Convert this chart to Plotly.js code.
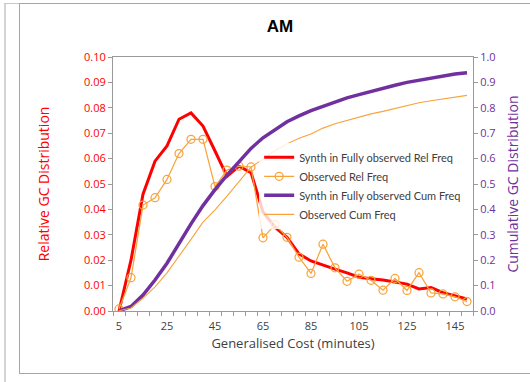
<!DOCTYPE html>
<html>
<head>
<meta charset="utf-8">
<script src="https://cdn.plot.ly/plotly-3.0.1.min.js"></script>
<style>
  html, body { margin: 0; padding: 0; background: #ffffff; }
  #wrap { position: relative; width: 530px; height: 382px; overflow: hidden; }
  #strip { position: absolute; left: 4px; top: 4px; width: 2px; height: 378px; background: #d4d4d4; }
  #topline { position: absolute; left: 4px; top: 3px; width: 526px; height: 1px; background: #c8c8c8; }
  #frame { position: absolute; left: 19px; top: 3px; width: 530px; height: 371px; border: 1px solid #a6a6a6; box-sizing: border-box; }
  #chart { position: absolute; left: 0; top: 0; width: 530px; height: 382px; }
</style>
</head>
<body>
<div id="wrap">
  <div id="strip"></div>
  <div id="topline"></div>
  <div id="frame"></div>
  <div id="chart"></div>
</div>
<script>
// Generalised cost categories (minutes)
const costMinutes = [5,10,15,20,25,30,35,40,45,50,55,60,65,70,75,80,85,90,95,100,105,110,115,120,125,130,135,140,145,150];
const xTickLabels = [5,25,45,65,85,105,125,145];

// Relative frequency series (left axis)
const synthRelFreq = [0.000,0.020,0.046,0.059,0.065,0.0755,0.078,0.0728,0.063,0.053,0.057,0.0545,0.039,0.033,0.029,0.0225,0.0197,0.018,0.0165,0.015,0.0133,0.0127,0.0122,0.0114,0.0106,0.0087,0.0092,0.0072,0.0059,0.0047];
const observedRelFreq = [0.0008,0.0131,0.0417,0.0446,0.0518,0.062,0.0676,0.0676,0.049,0.0555,0.057,0.0567,0.0288,0.034,0.029,0.0212,0.0148,0.0263,0.017,0.0117,0.0145,0.0121,0.0082,0.0128,0.0081,0.0151,0.0071,0.0067,0.0056,0.0037];

// Cumulative frequency series (right axis)
const synthCumFreq = [0.0,0.018,0.063,0.122,0.188,0.266,0.343,0.415,0.478,0.535,0.59,0.64,0.682,0.715,0.745,0.768,0.789,0.806,0.823,0.839,0.852,0.865,0.877,0.889,0.9,0.909,0.918,0.926,0.933,0.938];
const observedCumFreq = [0.001,0.012,0.05,0.095,0.15,0.214,0.282,0.35,0.398,0.452,0.51,0.566,0.598,0.632,0.658,0.68,0.697,0.72,0.737,0.75,0.764,0.776,0.786,0.798,0.807,0.82,0.828,0.836,0.843,0.849];

const RED = '#ff0000';
const ORANGE = '#f9a33a';
const PURPLE = '#7030a0';
const FONT = 'Open Sans, DejaVu Sans, sans-serif';

const traces = [
  { x: costMinutes, y: synthRelFreq, name: 'Synth in Fully observed Rel Freq', type: 'scatter', mode: 'lines',
    line: { color: RED, width: 3 }, yaxis: 'y' },
  { x: costMinutes, y: observedRelFreq, name: 'Observed Rel Freq', type: 'scatter', mode: 'lines+markers',
    line: { color: ORANGE, width: 1.25 }, marker: { symbol: 'circle-open', size: 8, color: ORANGE, line: { width: 1.25, color: ORANGE } }, yaxis: 'y' },
  { x: costMinutes, y: synthCumFreq, name: 'Synth in Fully observed Cum Freq', type: 'scatter', mode: 'lines',
    line: { color: PURPLE, width: 3.5 }, yaxis: 'y2' },
  { x: costMinutes, y: observedCumFreq, name: 'Observed Cum Freq', type: 'scatter', mode: 'lines',
    line: { color: ORANGE, width: 1.1 }, yaxis: 'y2' }
];

const layout = {
  width: 530, height: 382,
  margin: { l: 113, r: 57, t: 57, b: 71, pad: 0 },
  paper_bgcolor: 'rgba(0,0,0,0)',
  plot_bgcolor: 'rgba(0,0,0,0)',
  font: { family: FONT, size: 11, color: '#404040' },
  title: { text: '<b>AM</b>', font: { family: 'Liberation Sans, Arial, sans-serif', size: 17, color: '#000000' },
           x: 280/530, xref: 'container', xanchor: 'center', y: 1 - 26/382, yref: 'container', yanchor: 'middle' },
  showlegend: true,
  legend: { x: 0.406, y: 0.662, xanchor: 'left', yanchor: 'top', bgcolor: 'rgba(255,255,255,0.8)',
            font: { family: 'Lato, Open Sans, sans-serif', size: 11, color: '#404040' }, tracegroupgap: 0, itemwidth: 30 },
  xaxis: {
    range: [2.5, 152.5], tickmode: 'array', tickvals: xTickLabels, ticktext: xTickLabels.map(String),
    ticks: '', showgrid: false, zeroline: false, ticklabelstandoff: 5,
    showline: true, linecolor: '#9a9a9a', linewidth: 1, mirror: true,
    tickfont: { family: FONT, size: 11, color: '#404040' },
    minor: { tickmode: 'linear', tick0: 2.5, dtick: 5, ticks: 'outside', ticklen: 4, tickcolor: '#9a9a9a', showgrid: false },
    title: { text: 'Generalised Cost (minutes)', font: { family: FONT, size: 13, color: '#404040' }, standoff: 6 }
  },
  yaxis: {
    range: [0, 0.1], dtick: 0.01, tickformat: '.2f', ticks: 'outside', ticklen: 4, tickcolor: '#9a9a9a',
    showgrid: false, zeroline: false, showline: true, linecolor: '#9a9a9a', linewidth: 1,
    tickfont: { family: FONT, size: 11, color: RED },
    title: { text: 'Relative GC Distribution', font: { family: FONT, size: 14, color: RED }, standoff: 31 }
  },
  yaxis2: {
    range: [0, 1.0], dtick: 0.1, tickformat: '.1f', overlaying: 'y', side: 'right', anchor: 'x',
    ticks: 'outside', ticklen: 4, tickcolor: '#9a9a9a',
    showgrid: false, zeroline: false, showline: true, linecolor: '#9a9a9a', linewidth: 1,
    tickfont: { family: FONT, size: 11, color: PURPLE },
    title: { text: 'Cumulative GC Distribution', font: { family: FONT, size: 14, color: PURPLE }, standoff: 12 }
  }
};

Plotly.newPlot('chart', traces, layout, { displayModeBar: false, staticPlot: true });
</script>
</body>
</html>
